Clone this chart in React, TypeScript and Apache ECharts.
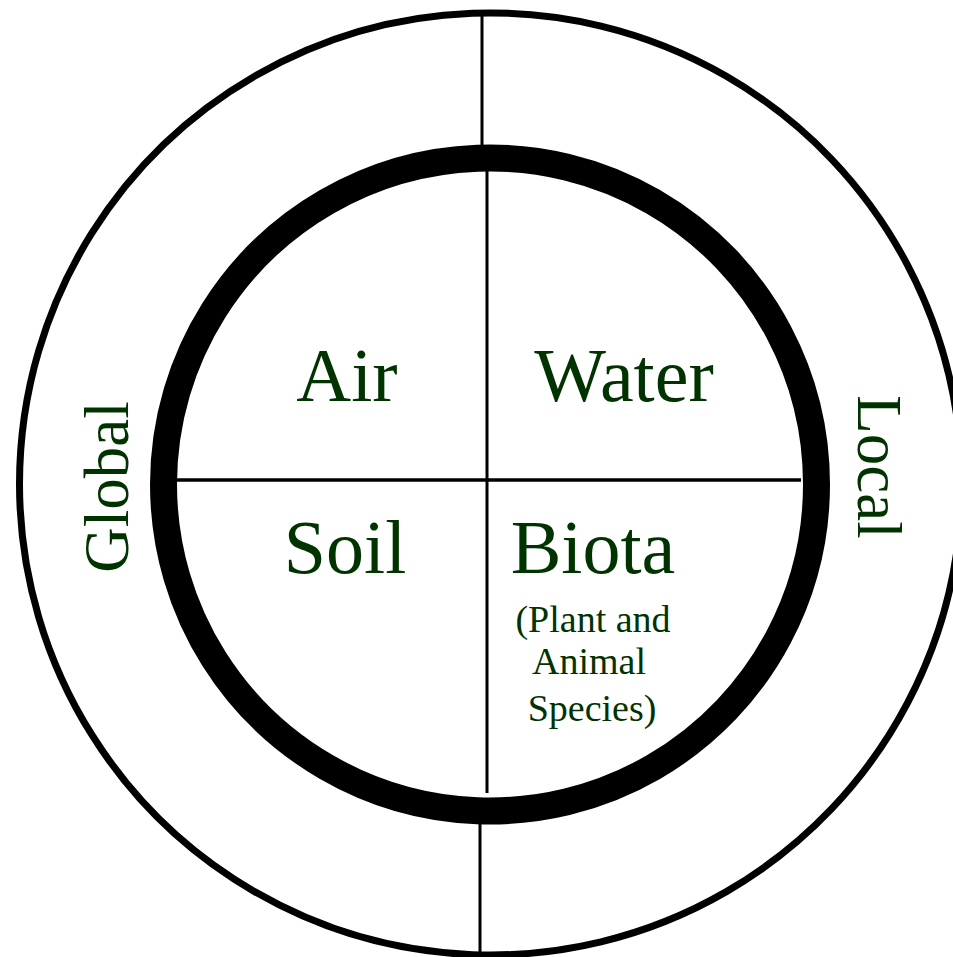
import React, { useEffect, useRef } from "react";
import * as echarts from "echarts";

// Quadrant labels of the diagram
const quadrantLabels = ["Air", "Water", "Soil", "Biota"];
const biotaNote = ["(Plant and", "Animal", "Species)"];
const scaleLabels = ["Global", "Local"];

const GREEN = "#003300";
const FONT = "'Liberation Serif', 'Times New Roman', serif";

export default function App() {
  const ref = useRef<HTMLDivElement>(null);
  useEffect(() => {
    if (!ref.current) return;
    const chart = echarts.init(ref.current, undefined, { renderer: "svg" });
    const quadPos = [
      [347, 375],
      [624, 375],
      [345, 547],
      [593, 547],
    ];
    const notePos = [
      [593, 619],
      [589, 661],
      [592, 708],
    ];
    const elements: any[] = [
      {
        type: "circle",
        shape: { cx: 490.5, cy: 484, r: 471 },
        style: { fill: "none", stroke: "#000", lineWidth: 7 },
      },
      {
        type: "circle",
        shape: { cx: 490, cy: 484.5, r: 326.5 },
        style: { fill: "none", stroke: "#000", lineWidth: 27 },
      },
      {
        type: "line",
        shape: { x1: 482, y1: 14, x2: 482, y2: 146 },
        style: { stroke: "#000", lineWidth: 3 },
      },
      {
        type: "line",
        shape: { x1: 487, y1: 168, x2: 487, y2: 793 },
        style: { stroke: "#000", lineWidth: 3 },
      },
      {
        type: "line",
        shape: { x1: 480, y1: 823, x2: 480, y2: 953 },
        style: { stroke: "#000", lineWidth: 3 },
      },
      {
        type: "line",
        shape: { x1: 176, y1: 480, x2: 801, y2: 480 },
        style: { stroke: "#000", lineWidth: 3.5 },
      },
    ];
    quadrantLabels.forEach((t, i) => {
      elements.push({
        type: "text",
        x: quadPos[i][0],
        y: quadPos[i][1],
        style: {
          text: t,
          fill: GREEN,
          font: `76px ${FONT}`,
          textAlign: "center",
          textVerticalAlign: "middle",
        },
      });
    });
    biotaNote.forEach((t, i) => {
      elements.push({
        type: "text",
        x: notePos[i][0],
        y: notePos[i][1],
        style: {
          text: t,
          fill: GREEN,
          font: `38px ${FONT}`,
          textAlign: "center",
          textVerticalAlign: "middle",
        },
      });
    });
    elements.push({
      type: "text",
      x: 107,
      y: 487,
      rotation: Math.PI / 2,
      style: {
        text: scaleLabels[0],
        fill: GREEN,
        font: `63px ${FONT}`,
        textAlign: "center",
        textVerticalAlign: "middle",
      },
    });
    elements.push({
      type: "text",
      x: 879,
      y: 467,
      rotation: -Math.PI / 2,
      style: {
        text: scaleLabels[1],
        fill: GREEN,
        font: `63px ${FONT}`,
        textAlign: "center",
        textVerticalAlign: "middle",
      },
    });
    chart.setOption({
      animation: false,
      backgroundColor: "#fff",
      graphic: { elements },
    });
    return () => chart.dispose();
  }, []);
  return (
    <div
      ref={ref}
      style={{ position: "absolute", left: 0, top: 0, width: 953, height: 957 }}
    />
  );
}
